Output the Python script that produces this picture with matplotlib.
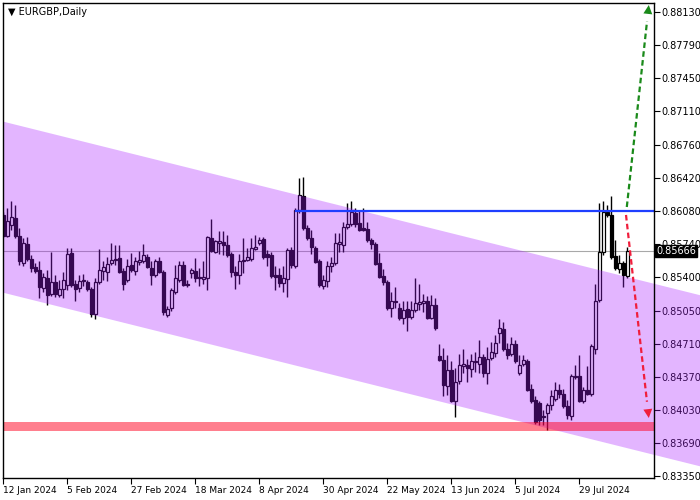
import numpy as np
import matplotlib.pyplot as plt
import matplotlib.transforms as mtransforms

# daily EURGBP candles, prices in pips (1e-4)
opens = np.array([
    8604, 8582, 8594, 8601, 8582, 8554, 8574, 8559, 8550, 8547,
    8529, 8539, 8522, 8535, 8521, 8528, 8532, 8565, 8533, 8529,
    8536, 8535, 8528, 8502, 8535, 8546, 8545, 8554, 8558, 8560,
    8546, 8537, 8552, 8546, 8555, 8556, 8561, 8549, 8542, 8556,
    8545, 8501, 8508, 8525, 8537, 8552, 8533, 8544, 8546, 8540,
    8538, 8539, 8580, 8566, 8575, 8576, 8573, 8564, 8545, 8542,
    8556, 8558, 8559, 8569, 8575, 8579, 8564, 8563, 8542, 8542,
    8534, 8538, 8568, 8551, 8609, 8623, 8590, 8580, 8570, 8556,
    8531, 8536, 8551, 8554, 8574, 8573, 8591, 8595, 8606, 8596,
    8590, 8589, 8578, 8574, 8554, 8541, 8535, 8508, 8514, 8508,
    8498, 8507, 8499, 8506, 8512, 8513, 8515, 8498, 8511, 8459,
    8455, 8428, 8444, 8412, 8433, 8448, 8449, 8445, 8452, 8450,
    8458, 8441, 8457, 8462, 8482, 8486, 8466, 8461, 8471, 8441,
    8450, 8454, 8425, 8413, 8410, 8397, 8400, 8408, 8414, 8424,
    8420, 8407, 8397, 8437, 8438, 8412, 8424, 8419, 8466, 8516,
    8566, 8607, 8604, 8562, 8548, 8554, 8541]) / 1e4
highs = np.array([
    8607, 8611, 8618, 8614, 8590, 8580, 8581, 8563, 8554, 8556,
    8544, 8547, 8566, 8542, 8537, 8545, 8570, 8570, 8537, 8542,
    8543, 8537, 8530, 8539, 8569, 8557, 8561, 8575, 8573, 8573,
    8549, 8559, 8565, 8561, 8567, 8574, 8564, 8557, 8559, 8561,
    8547, 8510, 8529, 8552, 8557, 8556, 8537, 8549, 8560, 8549,
    8556, 8582, 8600, 8578, 8587, 8587, 8583, 8566, 8551, 8564,
    8580, 8570, 8580, 8583, 8581, 8581, 8568, 8566, 8551, 8549,
    8551, 8570, 8571, 8611, 8642, 8643, 8594, 8588, 8572, 8559,
    8542, 8556, 8561, 8585, 8585, 8597, 8616, 8618, 8611, 8609,
    8611, 8597, 8580, 8576, 8565, 8548, 8537, 8525, 8530, 8513,
    8515, 8515, 8515, 8539, 8533, 8523, 8520, 8521, 8518, 8471,
    8467, 8460, 8453, 8446, 8461, 8466, 8456, 8461, 8463, 8475,
    8461, 8468, 8473, 8480, 8497, 8494, 8472, 8478, 8475, 8460,
    8460, 8456, 8430, 8417, 8412, 8403, 8410, 8424, 8432, 8430,
    8425, 8413, 8440, 8449, 8460, 8427, 8448, 8471, 8533, 8616,
    8618, 8614, 8623, 8578, 8563, 8556, 8571]) / 1e4
lows = np.array([
    8581, 8581, 8588, 8580, 8552, 8551, 8556, 8545, 8544, 8518,
    8525, 8511, 8520, 8519, 8519, 8518, 8527, 8530, 8515, 8525,
    8531, 8526, 8499, 8497, 8533, 8537, 8536, 8552, 8552, 8544,
    8527, 8535, 8545, 8542, 8552, 8554, 8549, 8532, 8540, 8544,
    8501, 8499, 8505, 8523, 8535, 8531, 8530, 8539, 8535, 8531,
    8533, 8527, 8566, 8565, 8564, 8563, 8561, 8540, 8528, 8533,
    8544, 8556, 8557, 8568, 8573, 8559, 8551, 8539, 8527, 8530,
    8525, 8519, 8549, 8549, 8606, 8588, 8578, 8564, 8554, 8530,
    8528, 8530, 8545, 8552, 8566, 8566, 8589, 8593, 8592, 8587,
    8587, 8576, 8569, 8552, 8539, 8532, 8506, 8499, 8508, 8496,
    8492, 8484, 8497, 8504, 8506, 8504, 8497, 8497, 8485, 8453,
    8417, 8418, 8411, 8396, 8430, 8441, 8432, 8437, 8442, 8441,
    8437, 8430, 8455, 8458, 8472, 8464, 8456, 8459, 8451, 8439,
    8448, 8423, 8410, 8389, 8388, 8388, 8382, 8403, 8412, 8415,
    8405, 8394, 8393, 8435, 8411, 8410, 8418, 8417, 8461, 8514,
    8563, 8602, 8559, 8547, 8544, 8530, 8539]) / 1e4
closes = np.array([
    8582, 8598, 8602, 8582, 8556, 8575, 8559, 8549, 8546, 8530,
    8540, 8521, 8535, 8522, 8528, 8537, 8564, 8532, 8528, 8536,
    8537, 8528, 8502, 8535, 8547, 8550, 8553, 8558, 8559, 8545,
    8533, 8551, 8547, 8556, 8558, 8563, 8550, 8542, 8556, 8545,
    8504, 8507, 8527, 8539, 8552, 8532, 8532, 8547, 8539, 8539,
    8540, 8581, 8567, 8577, 8577, 8573, 8563, 8545, 8542, 8557,
    8558, 8561, 8570, 8571, 8578, 8561, 8561, 8541, 8540, 8534,
    8539, 8568, 8552, 8609, 8624, 8590, 8580, 8571, 8555, 8532,
    8537, 8551, 8554, 8575, 8576, 8592, 8595, 8607, 8595, 8588,
    8588, 8578, 8574, 8553, 8540, 8535, 8508, 8515, 8515, 8498,
    8506, 8499, 8506, 8513, 8514, 8515, 8498, 8511, 8487, 8455,
    8429, 8444, 8412, 8432, 8449, 8450, 8446, 8453, 8453, 8458,
    8441, 8456, 8463, 8472, 8487, 8466, 8460, 8471, 8453, 8449,
    8455, 8424, 8412, 8391, 8393, 8396, 8408, 8417, 8424, 8420,
    8407, 8398, 8438, 8438, 8412, 8424, 8419, 8469, 8515, 8566,
    8607, 8604, 8561, 8549, 8554, 8542, 8566.6]) / 1e4

date_labels = ['12 Jan 2024', '5 Feb 2024', '27 Feb 2024', '18 Mar 2024', '8 Apr 2024',
               '30 Apr 2024', '22 May 2024', '13 Jun 2024', '5 Jul 2024', '29 Jul 2024']
price_ticks = [0.88130, 0.87790, 0.87450, 0.87110, 0.86760, 0.86420, 0.86080, 0.85740,
               0.85400, 0.85050, 0.84710, 0.84370, 0.84030, 0.83690, 0.83350]
last_price = 0.85666
resistance = 0.86080
resistance_from = 72.9
support_zone = (0.83814, 0.83906)
channel_top0 = 0.87000      # upper channel line at first bar
channel_slope = -0.0001026  # per bar
channel_width = 0.01762
channel_end = 174.2
up_arrow = [(155.9, 0.86121), (161.4, 0.88201)]
down_arrow = [(155.7, 0.86039), (161.4, 0.83948)]

n = len(opens)
x = np.arange(n)
x_lo, x_hi = -0.08, 162.7

fig = plt.figure(figsize=(7, 5), dpi=100)
ax = fig.add_axes([3 / 700, 22 / 500, 651 / 700, 475 / 500])
ax.set_xlim(x_lo, x_hi)
ax.set_ylim(0.83330, 0.88222)

# candles
up = closes >= opens
body_lo = np.minimum(opens, closes)
body_h = np.maximum(np.abs(closes - opens), 0.00002)
ax.vlines(x, lows, highs, color='black', lw=1, zorder=2)
ax.bar(x[up], body_h[up], bottom=body_lo[up], width=0.72, facecolor='white',
       edgecolor='black', lw=0.9, zorder=3)
ax.bar(x[~up], body_h[~up], bottom=body_lo[~up], width=0.72, color='black',
       edgecolor='black', lw=0.9, zorder=3)

ax.axhline(last_price, color='#a8a8a8', lw=0.8, zorder=1)

# descending channel (spills over the price scale like in the terminal)
cx = np.array([x_lo, channel_end])
top = channel_top0 + channel_slope * cx
bot = top - channel_width
ax.fill([cx[0], cx[1], cx[1], cx[0]], [top[0], top[1], bot[1], bot[0]],
        color=(0.66, 0.1, 1.0), alpha=0.32, lw=0, zorder=4, clip_on=False)

ax.axhspan(*support_zone, color=(1.0, 0.0, 0.12), alpha=0.5, lw=0, zorder=5)
ax.hlines(resistance, resistance_from, x_hi, color='#1f3fff', lw=1.6, zorder=6)

for (x0, y0), (x1, y1), col in [(up_arrow[0], up_arrow[1], '#1a8a1a'),
                                (down_arrow[0], down_arrow[1], '#f01e3c')]:
    ax.plot([x0, x0 + 0.92 * (x1 - x0)], [y0, y0 + 0.92 * (y1 - y0)],
            ls=(0, (2.5, 1.5)), color=col, lw=1.6, zorder=7)
    ax.annotate('', xy=(x1, y1), xytext=(x0 + 0.9 * (x1 - x0), y0 + 0.9 * (y1 - y0)),
                arrowprops=dict(arrowstyle='-|>', color=col, lw=0, mutation_scale=16,
                                shrinkA=0, shrinkB=0), zorder=8)

# axes
ax.yaxis.tick_right()
ax.set_yticks(price_ticks)
ax.set_yticklabels([f'{v:.5f}' for v in price_ticks])
ax.tick_params(axis='y', direction='out', length=4, width=0.8, labelsize=7, pad=1)
ax.set_xticks(x[::16][:len(date_labels)])
ax.set_xticklabels(date_labels)
ax.tick_params(axis='x', direction='out', length=4, width=0.8, labelsize=6.5, pad=2)
for lab in ax.get_xticklabels():
    lab.set_ha('left')
for sp in ax.spines.values():
    sp.set_linewidth(1)
    sp.set_zorder(10)

ax.text(0.008, 0.992, '\u25bc EURGBP,Daily', transform=ax.transAxes, fontsize=7,
        va='top', ha='left', zorder=11)

trans = mtransforms.blended_transform_factory(ax.transAxes, ax.transData)
ax.text(1.003, last_price, f'{last_price:.5f}', transform=trans, color='white',
        fontsize=7, va='center', ha='left', zorder=12, clip_on=False,
        bbox=dict(boxstyle='square,pad=0.12', fc='black', ec='black'))

fig.savefig('out.png', dpi=100)
